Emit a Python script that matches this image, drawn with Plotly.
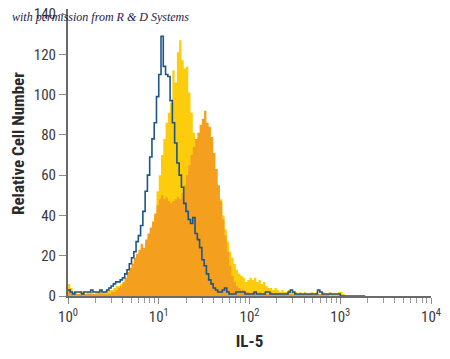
import numpy as np
import plotly.graph_objects as go

# Histogram bins in decades (log10 of fluorescence), step 0.025
bin_step = 0.025

isotype_blue = [3,2,1,2,2,2,1,2,2,2,3,2,2,2,3,2,2,3,
                4,5,6,7,7,8,9,11,13,16,19,22,27,30,35,42,52,60,69,78,86,99,
                110,129,114,110,109,97,86,76,66,60,54,46,42,38,36,39,31,28,24,18,
                15,11,8,6,4,3,2,2,3,4,2,1,1,1,2,2,2,2,1,1,
                1,1,2,1,1,1,1,2,2,1,1,1,1,1,1,1,1,2,3,2,
                1,1,1,1,1,1,1,1,1,1,3,2,1,1,1,1,1,1,1,1,
                0,0,0,0,0,0,0,0,0,0,0,0]

stim_yellow = [6,4,2,2,1,2,2,1,2,2,2,1,2,2,3,2,2,3,
               3,3,4,5,5,6,6,8,10,12,14,17,19,21,23,23,26,29,32,35,39,52,
               60,70,78,86,91,96,112,106,121,127,117,113,114,101,91,81,69,62,58,56,
               55,58,57,56,58,56,54,48,40,33,27,22,19,16,13,11,10,9,7,8,
               9,8,9,7,8,6,7,5,4,4,3,4,3,2,3,2,2,3,2,2,
               2,1,2,1,2,1,1,2,1,2,1,1,2,1,1,2,1,1,1,2,
               2,1,0,0,0,0,0,0,0,0,0,0]

stim_orange = [3,2,1,1,1,1,1,1,1,1,1,1,1,2,1,1,1,1,
               1,2,2,3,4,5,7,9,12,14,16,19,21,23,26,24,28,31,34,37,41,45,
               48,50,48,49,47,46,47,48,49,48,51,55,60,65,70,74,78,81,85,88,
               92,86,84,79,71,63,55,47,38,30,22,15,10,7,5,4,3,3,2,2,
               1,2,1,1,2,1,1,1,1,2,1,1,1,1,1,1,1,1,1,1,
               1,1,1,1,1,1,1,1,1,1,1,1,1,1,1,0,0,0,0,0,
               0,0,0,0,0,0,0,0,0,0,0,0]

x_tick_vals = [1, 10, 100, 1000, 10000]
x_tick_text = ["10<sup>0</sup>", "10<sup>1</sup>", "10<sup>2</sup>", "10<sup>3</sup>", "10<sup>4</sup>"]
y_tick_vals = [0, 20, 40, 60, 80, 100, 120, 140]

n = len(isotype_blue)
x_vals = 10 ** (np.arange(n) * bin_step)

fig = go.Figure()
fig.add_trace(go.Scatter(x=x_vals, y=stim_yellow[:n], mode="lines", line=dict(width=0, shape="hv"),
                         fill="tozeroy", fillcolor="#FDCC0C", hoverinfo="skip"))
fig.add_trace(go.Scatter(x=x_vals, y=stim_orange[:n], mode="lines", line=dict(width=0, shape="hv"),
                         fill="tozeroy", fillcolor="#F59F1E", hoverinfo="skip"))
fig.add_trace(go.Scatter(x=x_vals, y=isotype_blue, mode="lines",
                         line=dict(width=1.6, shape="hv", color="#1C5687"), hoverinfo="skip"))

fam = "Liberation Sans Narrow, Roboto Condensed, Arial Narrow, sans-serif"
label_font = dict(family=fam, size=15, color="#3a3a3a")

fig.update_layout(
    width=450, height=359,
    margin=dict(l=60, r=27, t=1, b=71),
    paper_bgcolor="white", plot_bgcolor="white",
    showlegend=False,
    xaxis=dict(type="log", range=[0, 4], showgrid=False, zeroline=False, automargin=False,
               showline=True, linecolor="#6a6a6a", linewidth=2,
               tickmode="array", tickvals=x_tick_vals, ticktext=x_tick_text,
               ticks="outside", ticklen=6, tickcolor="#8a8a8a", tickwidth=1,
               minor=dict(ticks="outside", ticklen=5, tickcolor="#9a9a9a", dtick="D1", showgrid=False),
               tickfont=label_font,
               title=dict(text="<b>IL-5</b>", font=dict(family=fam, size=17, color="#2a2a2a"), standoff=10)),
    yaxis=dict(range=[0, 142.5], showgrid=False, zeroline=False, automargin=False,
               showline=True, linecolor="#6a6a6a", linewidth=2,
               tickmode="array", tickvals=y_tick_vals, ticklabeloverflow="allow",
               ticks="outside", ticklen=7, tickcolor="#8a8a8a", tickwidth=1,
               tickfont=label_font),
    annotations=[
        dict(text="<b>Relative Cell Number</b>", xref="paper", yref="paper",
             x=-0.138, y=0.533, xanchor="center", yanchor="middle", textangle=-90, showarrow=False,
             font=dict(family=fam, size=17, color="#2a2a2a")),
        dict(text="<i>with permission from R &amp; D Systems</i>", xref="paper", yref="paper",
             x=-0.16, y=0.972, xanchor="left", yanchor="middle", showarrow=False,
             font=dict(family="Liberation Serif, DejaVu Serif, serif", size=12, color="#1a1a4a"))],
)

fig.write_html("out.html")
